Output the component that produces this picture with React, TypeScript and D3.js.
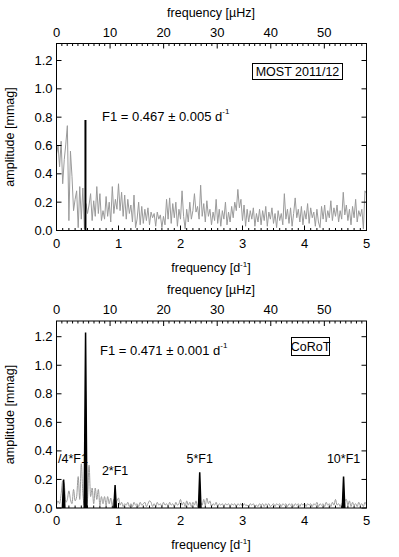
import React from "react";
import * as d3 from "d3";

// ---- data ----
const FREQ_MAX = 5; // d^-1
const UHZ_PER_CD = 11.574;

// MOST 2011/12 amplitude spectrum (mmag), sampled from 0 to 5 d^-1
const mostAmp = [
  0.54, 0.60, 0.45, 0.63, 0.33, 0.50, 0.61, 0.74, 0.07, 0.56,
  0.38, 0.14, 0.22, 0.28, 0.02, 0.31, 0.08, 0.30, 0.01, 0.19,
  0.12, 0.18, 0.26, 0.07, 0.21, 0.10, 0.31, 0.12, 0.26, 0.07,
  0.14, 0.08, 0.24, 0.10, 0.20, 0.06, 0.31, 0.12, 0.22, 0.15,
  0.33, 0.14, 0.27, 0.10, 0.25, 0.08, 0.22, 0.12, 0.18, 0.06,
  0.25, 0.02, 0.08, 0.20, 0.04, 0.17, 0.05, 0.15, 0.07, 0.16,
  0.04, 0.13, 0.09, 0.12, 0.03, 0.13, 0.08, 0.11, 0.02, 0.10,
  0.04, 0.22, 0.08, 0.23, 0.05, 0.19, 0.09, 0.20, 0.03, 0.15,
  0.08, 0.28, 0.10, 0.01, 0.15, 0.06, 0.20, 0.08, 0.14, 0.26,
  0.13, 0.17, 0.08, 0.32, 0.10, 0.19, 0.06, 0.21, 0.10, 0.15,
  0.04, 0.13, 0.07, 0.22, 0.05, 0.15, 0.03, 0.14, 0.08, 0.20,
  0.04, 0.13, 0.06, 0.17, 0.09, 0.20, 0.14, 0.29, 0.16, 0.22,
  0.07, 0.18, 0.03, 0.15, 0.06, 0.14, 0.08, 0.16, 0.03, 0.12,
  0.06, 0.15, 0.04, 0.14, 0.07, 0.17, 0.03, 0.13, 0.08, 0.16,
  0.05, 0.12, 0.02, 0.14, 0.07, 0.12, 0.04, 0.26, 0.08, 0.15,
  0.05, 0.16, 0.03, 0.12, 0.23, 0.09, 0.15, 0.06, 0.17, 0.04,
  0.14, 0.08, 0.19, 0.05, 0.16, 0.09, 0.13, 0.03, 0.15, 0.06,
  0.02, 0.17, 0.08, 0.18, 0.06, 0.14, 0.09, 0.21, 0.07, 0.16,
  0.10, 0.18, 0.06, 0.14, 0.08, 0.27, 0.11, 0.18, 0.07, 0.15,
  0.04, 0.17, 0.09, 0.22, 0.06, 0.14, 0.10, 0.15, 0.01, 0.28,
  0.26,
];

// CoRoT amplitude spectrum (mmag), sampled from 0 to 5 d^-1
const corotAmp = [
  0.02, 0.05, 0.03, 0.10, 0.19, 0.17, 0.04, 0.06, 0.12, 0.06,
  0.03, 0.13, 0.05, 0.08, 0.22, 0.06, 0.31, 0.10, 0.02, 0.02,
  0.06, 0.30, 0.08, 0.14, 0.03, 0.14, 0.06, 0.13, 0.02, 0.08,
  0.03, 0.08, 0.02, 0.08, 0.03, 0.07, 0.02, 0.06, 0.03, 0.05,
  0.07, 0.02, 0.04, 0.01, 0.03, 0.02, 0.04, 0.01, 0.03, 0.01,
  0.04, 0.02, 0.03, 0.01, 0.04, 0.02, 0.03, 0.04, 0.01, 0.03,
  0.05, 0.04, 0.01, 0.03, 0.01, 0.04, 0.02, 0.03, 0.01, 0.04,
  0.02, 0.03, 0.01, 0.04, 0.02, 0.03, 0.01, 0.04, 0.02, 0.03,
  0.06, 0.02, 0.04, 0.01, 0.05, 0.02, 0.04, 0.01, 0.04, 0.02,
  0.05, 0.01, 0.03, 0.04, 0.02, 0.06, 0.02, 0.07, 0.03, 0.05,
  0.01, 0.03, 0.02, 0.04, 0.01, 0.03, 0.02, 0.03, 0.01, 0.03,
  0.02, 0.03, 0.01, 0.03, 0.02, 0.03, 0.01, 0.03, 0.02, 0.03,
  0.01, 0.03, 0.02, 0.02, 0.01, 0.03, 0.02, 0.03, 0.01, 0.02,
  0.01, 0.03, 0.02, 0.03, 0.01, 0.03, 0.02, 0.03, 0.01, 0.02,
  0.03, 0.01, 0.03, 0.02, 0.03, 0.01, 0.03, 0.02, 0.03, 0.01,
  0.03, 0.02, 0.03, 0.01, 0.03, 0.02, 0.03, 0.01, 0.03, 0.02,
  0.03, 0.01, 0.03, 0.02, 0.03, 0.01, 0.03, 0.02, 0.04, 0.01,
  0.03, 0.02, 0.03, 0.01, 0.04, 0.02, 0.03, 0.01, 0.04, 0.02,
  0.06, 0.02, 0.03, 0.01, 0.03, 0.02, 0.05, 0.06, 0.02, 0.05,
  0.01, 0.04, 0.02, 0.03, 0.01, 0.04, 0.02, 0.03, 0.01, 0.04,
  0.02,
];

// MOST: detected frequency F1 (single black line)
const mostPeakFreq = [0.467];
const mostPeakAmp = [0.78];

// CoRoT: F1 and its harmonics/sub-harmonic (black peaks)
const corotPeakFreq = [0.115, 0.469, 0.945, 2.31, 4.63];
const corotPeakAmp = [0.2, 1.23, 0.16, 0.25, 0.22];
const corotPeakLabels = ["/4*F1", "", "2*F1", "5*F1", "10*F1"];
const corotLabelAmp = [0.34, 0, 0.26, 0.34, 0.34];

const yTicks = [0.0, 0.2, 0.4, 0.6, 0.8, 1.0, 1.2];
const xTicks = [0, 1, 2, 3, 4, 5];
const uhzTicks = [0, 10, 20, 30, 40, 50];

const FONT = "'Liberation Sans', Arial, Helvetica, sans-serif";
const GRAY = "#9a9a9a";
const FS = 13;

type PanelProps = {
  top: number;
  bottom: number;
  yMax: number;
  amps: number[];
  smooth?: boolean;
  children?: (x: d3.ScaleLinear<number, number>, y: d3.ScaleLinear<number, number>) => React.ReactNode;
};

const LEFT = 56.5;
const RIGHT = 366.5;

function Panel({ top, bottom, yMax, amps, smooth, children }: PanelProps) {
  const x = d3.scaleLinear().domain([0, FREQ_MAX]).range([LEFT, RIGHT]);
  const xu = d3.scaleLinear().domain([0, FREQ_MAX * UHZ_PER_CD]).range([LEFT, RIGHT]);
  const y = d3.scaleLinear().domain([0, yMax]).range([bottom, top]);
  const step = FREQ_MAX / (amps.length - 1);
  const line = d3
    .line<number>()
    .x((_, i) => x(i * step))
    .y((d) => y(d))
    .curve(smooth ? d3.curveMonotoneX : d3.curveLinear);

  const minorX = d3.range(0, 50).map((i) => i * 0.1).filter((v) => Math.abs(v - Math.round(v)) > 1e-6);
  const minorU = d3.range(0, Math.floor(FREQ_MAX * UHZ_PER_CD) + 1).filter((v) => v % 10 !== 0);
  const midY = (top + bottom) / 2;

  return (
    <g>
      <defs>
        <clipPath id={`clip${top}`}>
          <rect x={LEFT} y={top} width={RIGHT - LEFT} height={bottom - top} />
        </clipPath>
      </defs>
      <path d={line(amps) || ""} fill="none" stroke={GRAY} strokeWidth={1} clipPath={`url(#clip${top})`} />
      {children && children(x, y)}
      <rect x={LEFT} y={top} width={RIGHT - LEFT} height={bottom - top} fill="none" stroke="#000" strokeWidth={1} />
      {/* bottom axis */}
      {xTicks.map((t) => (
        <g key={`bx${t}`}>
          <line x1={x(t)} x2={x(t)} y1={bottom} y2={bottom - 5} stroke="#000" />
          <text x={x(t)} y={bottom + 17} textAnchor="middle" fontSize={FS} fontFamily={FONT}>
            {t}
          </text>
        </g>
      ))}
      {minorX.map((t) => (
        <line key={`mx${t}`} x1={x(t)} x2={x(t)} y1={bottom} y2={bottom - 2.5} stroke="#000" />
      ))}
      {/* top axis in microHz */}
      {uhzTicks.map((t) => (
        <g key={`tu${t}`}>
          <line x1={xu(t)} x2={xu(t)} y1={top} y2={top + 5} stroke="#000" />
          <text x={xu(t)} y={top - 7} textAnchor="middle" fontSize={FS} fontFamily={FONT}>
            {t}
          </text>
        </g>
      ))}
      {minorU.map((t) => (
        <line key={`mu${t}`} x1={xu(t)} x2={xu(t)} y1={top} y2={top + 2.5} stroke="#000" />
      ))}
      {/* y axes */}
      {yTicks.map((t) => (
        <g key={`y${t}`}>
          <line x1={LEFT} x2={LEFT + 5} y1={y(t)} y2={y(t)} stroke="#000" />
          <line x1={RIGHT} x2={RIGHT - 5} y1={y(t)} y2={y(t)} stroke="#000" />
          <text x={LEFT - 4} y={y(t) + 4.5} textAnchor="end" fontSize={FS} fontFamily={FONT}>
            {t.toFixed(1)}
          </text>
        </g>
      ))}
      {/* axis titles */}
      <text x={211} y={bottom + 41} textAnchor="middle" fontSize={12.5} fontFamily={FONT}>
        frequency [d
        <tspan dy={-5} fontSize={8}>-1</tspan>
        <tspan dy={5}>]</tspan>
      </text>
      <text x={211} y={top - 27} textAnchor="middle" fontSize={12.5} fontFamily={FONT}>
        frequency [µHz]
      </text>
      <text
        transform={`translate(14,${midY}) rotate(-90)`}
        textAnchor="middle"
        fontSize={12.5}
        fontFamily={FONT}
      >
        amplitude [mmag]
      </text>
    </g>
  );
}

export default function App() {
  return (
    <svg
      width={399}
      height={557}
      style={{ position: "absolute", left: 0, top: 0, background: "#fff" }}
      xmlns="http://www.w3.org/2000/svg"
    >
      <rect width={399} height={557} fill="#fff" />
      <Panel top={43.5} bottom={230.5} yMax={1.32} amps={mostAmp}>
        {(x, y) => (
          <g>
            {mostPeakFreq.map((f, i) => (
              <line key={i} x1={x(f)} x2={x(f)} y1={y(0)} y2={y(mostPeakAmp[i])} stroke="#000" strokeWidth={2} />
            ))}
            <text x={102} y={121} fontSize={13} fontFamily={FONT}>
              F1 = 0.467 ± 0.005 d
              <tspan dy={-7} fontSize={8}>-1</tspan>
            </text>
            <rect x={252.5} y={63.5} width={90} height={16} fill="none" stroke="#000" strokeWidth={1} />
            <text x={297.5} y={76} textAnchor="middle" fontSize={12.5} fontFamily={FONT}>
              MOST 2011/12
            </text>
          </g>
        )}
      </Panel>
      <Panel top={321} bottom={508} yMax={1.31} amps={corotAmp} smooth>
        {(x, y) => (
          <g>
            {corotPeakFreq.map((f, i) => {
              const hw = i === 1 ? 0.022 : 0.02;
              const d = `M${x(f - hw)},${y(0)}L${x(f)},${y(corotPeakAmp[i])}L${x(f + hw)},${y(0)}`;
              return <path key={i} d={d} fill="#000" stroke="#000" strokeWidth={1.5} strokeLinejoin="miter" />;
            })}
            {corotPeakFreq.map((f, i) =>
              corotPeakLabels[i] ? (
                <text
                  key={`l${i}`}
                  x={i === 0 ? 73 : x(f)}
                  y={y(corotLabelAmp[i]) + 4}
                  textAnchor="middle"
                  fontSize={12.5}
                  fontFamily={FONT}
                >
                  {corotPeakLabels[i]}
                </text>
              ) : null
            )}
            <text x={100} y={355} fontSize={13} fontFamily={FONT}>
              F1 = 0.471 ± 0.001 d
              <tspan dy={-7} fontSize={8}>-1</tspan>
            </text>
            <rect x={291.5} y={337.5} width={38} height={18} fill="none" stroke="#000" strokeWidth={1} />
            <text x={310.5} y={351} textAnchor="middle" fontSize={12.5} fontFamily={FONT}>
              CoRoT
            </text>
          </g>
        )}
      </Panel>
    </svg>
  );
}
